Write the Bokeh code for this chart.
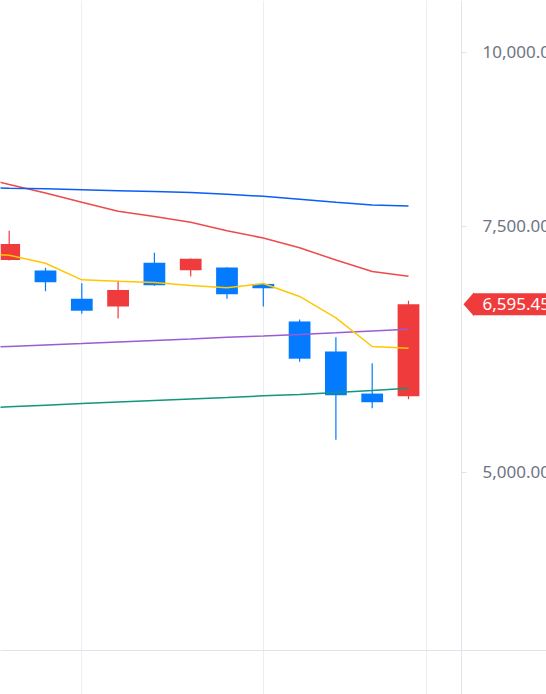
import math
from bokeh.plotting import figure
from bokeh.models import (Range1d, FixedTicker, NumeralTickFormatter, Span, Label,
                          PolyAnnotation, ColumnDataSource)
from bokeh.embed import file_html
from bokeh.resources import INLINE

# ---------------- data ----------------
BARS = list(range(12))
OPEN = [7094, 6972, 6655, 6570, 7062, 6975, 7007, 6820, 6410, 6101, 5691, 5666]
HIGH = [7445, 7003, 6827, 6858, 7180, 7112, 7010, 6827, 6431, 6244, 5984, 6633]
LOW = [7090, 6738, 6492, 6442, 6800, 6903, 6655, 6570, 5998, 5274, 5555, 5638]
CLOSE = [7284, 6838, 6524, 6753, 6805, 7109, 6705, 6771, 6028, 5675, 5610, 6595.45]

# moving averages start one bar earlier (the bar just left of the view)
LINE_BARS = list(range(-1, 12))
MA_BLUE = [7996, 7987, 7981, 7968, 7955, 7942, 7929, 7909, 7880, 7844, 7805, 7769, 7756]
MA_RED = [8159, 8036, 7924, 7805, 7689, 7623, 7551, 7445, 7357, 7239, 7094, 6961, 6907]
MA_YELLOW = [7166, 7151, 7057, 6866, 6850, 6836, 6802, 6776, 6824, 6680, 6449, 6151, 6133]
MA_PURPLE = [6135, 6151, 6166, 6181, 6197, 6212, 6227, 6244, 6258, 6274, 6291, 6310, 6329]
MA_GREEN = [5552, 5568, 5583, 5598, 5612, 5626, 5640, 5654, 5670, 5682, 5701, 5720, 5742]

LAST_PRICE = 6595.45
LAST_LABEL = "6,595.45"
PRICE_TICKS = [5000, 7500, 10000]
TIME_GRID = [2, 7, 11.5]

# ---------------- layout / style ----------------
W, H = 546, 694
PX_PER_DECADE = 420 / math.log10(2)
REF_PRICE, REF_PX = 10000, 51.5      # canvas y of the 10,000 tick
BAR_PX, FIRST_BAR_PX = 36.3, 8.7     # bar spacing, canvas x of first bar
AXIS_PX = 461                        # canvas x of the price scale border
SEP_PX = 650                         # canvas y of the lower pane border
TAG_HALF = 12

UP = "#EF3B3B"
DOWN = "#047BFF"
GRID = "#ECEEF2"
AXIS = "#E0E3EB"
LABEL = "#6F7485"

lg = math.log10(REF_PRICE)
y_top = 10 ** (lg + REF_PX / PX_PER_DECADE)
y_bot = 10 ** (lg - (H - REF_PX) / PX_PER_DECADE)
x_start = -FIRST_BAR_PX / BAR_PX
x_end = x_start + W / BAR_PX
x_axis_loc = x_start + AXIS_PX / BAR_PX

p = figure(width=W, height=H, output_backend="svg", toolbar_location=None,
           y_axis_type="log", y_axis_location="right", x_axis_location=None,
           x_range=Range1d(x_start, x_end), y_range=Range1d(y_bot, y_top),
           min_border=0)
p.outline_line_color = None
p.background_fill_color = "white"
p.border_fill_color = "white"

p.ygrid.grid_line_color = None
p.xgrid.ticker = FixedTicker(ticks=TIME_GRID)
p.xgrid.grid_line_color = GRID
p.xgrid.grid_line_width = 1

ax = p.yaxis[0]
ax.fixed_location = x_axis_loc
ax.ticker = FixedTicker(ticks=PRICE_TICKS)
ax.formatter = NumeralTickFormatter(format="0,0.00")
ax.major_label_text_font = "Noto Sans"
ax.major_label_text_font_size = "17px"
ax.major_label_text_color = LABEL
ax.axis_line_color = AXIS
ax.major_tick_line_color = AXIS
ax.major_tick_out = 5
ax.major_tick_in = 0
ax.minor_tick_out = 0
ax.minor_tick_in = 0
ax.minor_tick_line_color = None
ax.major_label_standoff = 16

# lower pane border
sep_val = 10 ** (lg - (SEP_PX - REF_PX) / PX_PER_DECADE)
p.add_layout(Span(location=sep_val, dimension="width", line_color=AXIS, line_width=1))

# candles
up_idx = [i for i in BARS if CLOSE[i] >= OPEN[i]]
dn_idx = [i for i in BARS if CLOSE[i] < OPEN[i]]
for idx, col in ((up_idx, UP), (dn_idx, DOWN)):
    src = ColumnDataSource(dict(
        x=[BARS[i] for i in idx],
        high=[HIGH[i] for i in idx],
        low=[LOW[i] for i in idx],
        top=[max(OPEN[i], CLOSE[i]) for i in idx],
        bottom=[min(OPEN[i], CLOSE[i]) for i in idx],
    ))
    p.segment(x0="x", y0="high", x1="x", y1="low", source=src, line_color=col, line_width=1.2)
    p.vbar(x="x", width=0.6, top="top", bottom="bottom", source=src,
           fill_color=col, line_color=None)

# moving averages
for vals, col in ((MA_GREEN, "#10977D"), (MA_PURPLE, "#9B5BD5"),
                  (MA_YELLOW, "#FFC700"), (MA_RED, "#EE4A4A"), (MA_BLUE, "#0A5EF5")):
    p.line(LINE_BARS, vals, line_color=col, line_width=1.5)

# last price tag on the price scale
k = 10 ** (TAG_HALF / PX_PER_DECADE)
p.add_layout(PolyAnnotation(xs=[AXIS_PX + 2, AXIS_PX + 12.5, AXIS_PX + 12.5],
                            ys=[LAST_PRICE, LAST_PRICE * k, LAST_PRICE / k],
                            xs_units="screen", ys_units="data",
                            fill_color=UP, fill_alpha=1.0, line_color=None))
p.add_layout(Label(x=AXIS_PX + 12, y=LAST_PRICE, x_units="screen", y_units="data",
                   text=LAST_LABEL, text_color="white", text_font="Noto Sans",
                   text_font_size="17px", text_baseline="middle", text_align="left",
                   background_fill_color=UP, background_fill_alpha=1.0,
                   padding=dict(left=9, right=30, top=5, bottom=5)))

open("out.html", "w").write(file_html(p, INLINE))
